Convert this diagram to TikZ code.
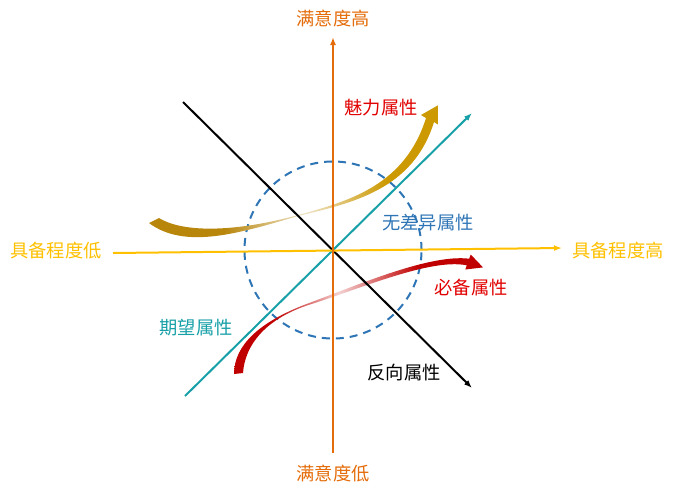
\documentclass[tikz,border=0pt]{standalone}
\usepackage{fontspec}
\setmainfont{Noto Sans CJK SC}
\usetikzlibrary{arrows.meta}
\definecolor{axisorange}{RGB}{228,108,10}
\definecolor{axisyellow}{RGB}{255,192,0}
\definecolor{circleblue}{RGB}{46,117,182}
\definecolor{tealline}{RGB}{23,160,168}
\definecolor{goldtail}{RGB}{184,134,11}
\definecolor{goldhead}{RGB}{204,153,0}
\definecolor{redarrow}{RGB}{192,0,0}
\definecolor{redlabel}{RGB}{225,0,0}
\colorlet{goldmid}{goldtail!22!white}
\colorlet{redmid}{redarrow!18!white}
\pgfdeclarehorizontalshading{goldfade}{100bp}{color(0bp)=(goldtail); color(25bp)=(goldtail); color(38bp)=(goldtail); color(52bp)=(goldmid); color(66bp)=(goldhead); color(75bp)=(goldhead); color(100bp)=(goldhead)}
\pgfdeclarehorizontalshading{redfade}{100bp}{color(0bp)=(redarrow); color(25bp)=(redarrow); color(33bp)=(redarrow); color(46bp)=(redmid); color(62bp)=(redarrow); color(75bp)=(redarrow); color(100bp)=(redarrow)}
\tikzset{
  lbl/.style={font=\fontsize{13.7}{16}\selectfont, inner sep=0pt},
  axisline/.style={line width=1.5pt, -{Latex[length=6pt,width=4.5pt]}}
}
\begin{document}
\begin{tikzpicture}[x=0.75pt,y=-0.75pt]
	\useasboundingbox (0,0) rectangle (675,497);
	\node [coordinate] (O) at (333,250) {};
	\node [coordinate] (VB) at (333,453) {};
	\node [coordinate] (VT) at (333,37) {};
	\node [coordinate] (HL) at (113,253) {};
	\node [coordinate] (HR) at (562,248) {};
	\node [coordinate] (BS) at (183,102) {};
	\node [coordinate] (BE) at (472,388) {};
	\node [coordinate] (TS) at (185,396) {};
	\node [coordinate] (TE) at (472,113) {};
	\node [lbl,text=axisorange] (HI) at (333,18) {满意度高};
	\node [lbl,text=axisorange] (LO) at (333,474) {满意度低};
	\node [lbl,text=axisyellow] (LEFT) at (56,251) {具备程度低};
	\node [lbl,text=axisyellow] (RIGHT) at (618,251) {具备程度高};
	\node [lbl,text=redlabel] (ATT) at (381,108) {魅力属性};
	\node [lbl,text=circleblue] (IND) at (428,223) {无差异属性};
	\node [lbl,text=redlabel] (MUST) at (471,288) {必备属性};
	\node [lbl,text=tealline] (ONE) at (196,328) {期望属性};
	\node [lbl] (REV) at (404,373) {反向属性};
	% dashed circle
	\draw [circleblue,line width=1.5pt,dash pattern=on 6pt off 4.5pt] (O) circle [radius=66.4pt];
	% attractive (gold) arrow
	\shade [shading=goldfade] (159,218) .. controls (185,234) and (240,231) .. (297,215.3)
	  .. controls (350,201) and (405,185) .. (426,118) -- (421,115) -- (438.5,105)
	  -- (438.7,125) -- (434,122) .. controls (413,190) and (352,203) .. (297,216.3)
	  .. controls (240,233) and (185,250) .. (149,223) -- cycle;
	% must-be (red) arrow
	\shade [shading=redfade] (234,374) .. controls (234,345) and (260,322) .. (305,304.6)
	  .. controls (360,284) and (430,254) .. (469.2,258.7) -- (470.7,254.5) -- (483,267.4)
	  -- (465.3,269.5) -- (466.8,265.3) .. controls (430,258) and (360,289) .. (306,305.8)
	  .. controls (265,320) and (245,345) .. (243,373) -- cycle;
	\draw [axisline,black] (BS) -- (BE);
	\draw [axisline,tealline] (TS) -- (TE);
	\draw [axisline,axisyellow] (HL) -- (HR);
	\draw [axisline,axisorange] (VB) -- (VT);
\end{tikzpicture}
\end{document}
